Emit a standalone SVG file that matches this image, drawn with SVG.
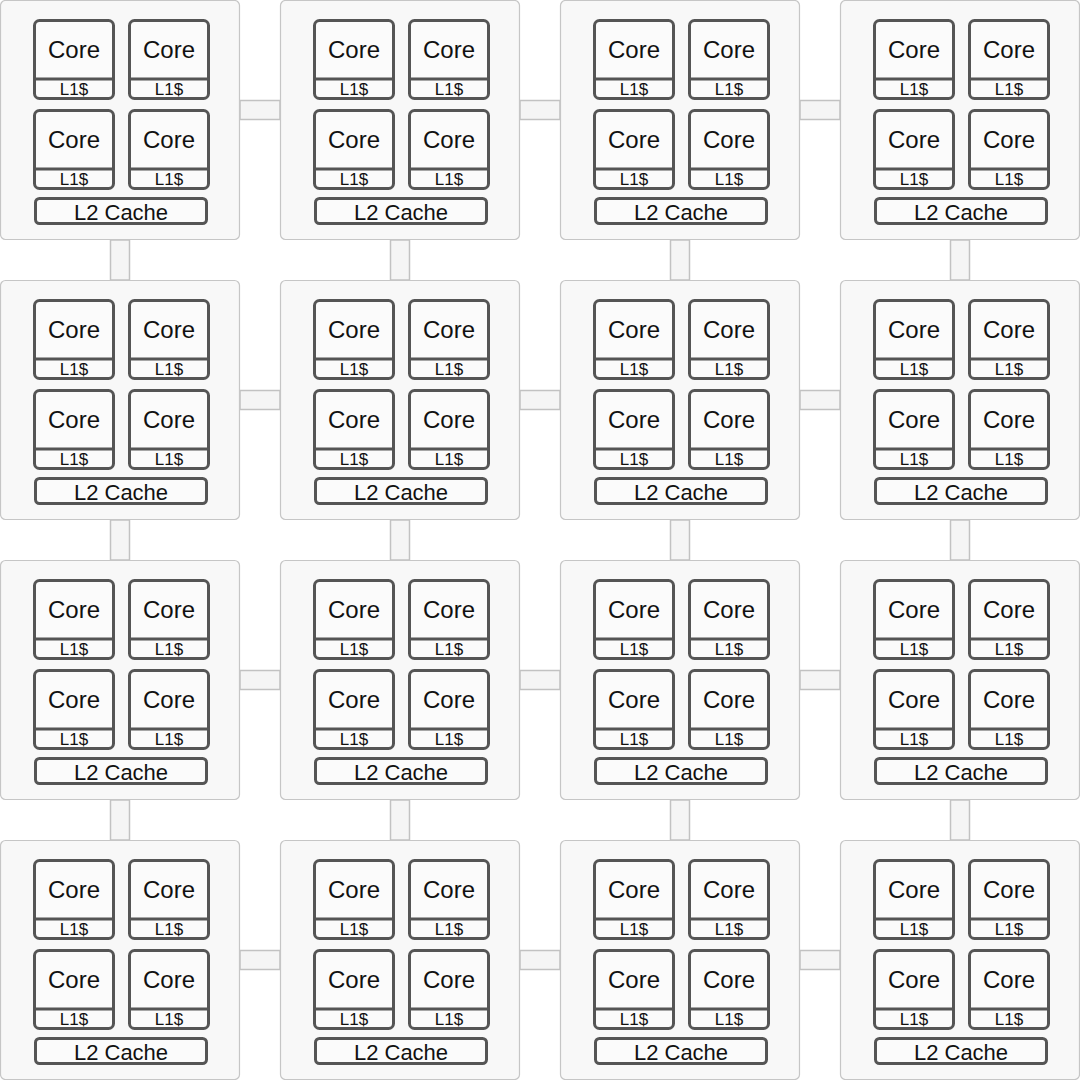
<svg xmlns="http://www.w3.org/2000/svg" width="1080" height="1080" viewBox="0 0 1080 1080">
<style>
.t{fill:#f8f8f8;stroke:#c6c6c6;stroke-width:1.2}
.cn{fill:#f5f5f5;stroke:#c2c2c2;stroke-width:1.5}
.c{fill:#fbfbfb;stroke:#555;stroke-width:3}
.d{stroke:#555;stroke-width:3}
text{font-family:"Liberation Sans",Arial,Helvetica,sans-serif;fill:#111;text-anchor:middle}
.k{font-size:24px}
.l{font-size:17px}
.m{font-size:22px}
</style>
<rect width="1080" height="1080" fill="#ffffff"/>
<g id="connectors">
<rect class="cn" x="240" y="100.5" width="40" height="19"/>
<rect class="cn" x="520" y="100.5" width="40" height="19"/>
<rect class="cn" x="800" y="100.5" width="40" height="19"/>
<rect class="cn" x="240" y="390.5" width="40" height="19"/>
<rect class="cn" x="520" y="390.5" width="40" height="19"/>
<rect class="cn" x="800" y="390.5" width="40" height="19"/>
<rect class="cn" x="240" y="670.5" width="40" height="19"/>
<rect class="cn" x="520" y="670.5" width="40" height="19"/>
<rect class="cn" x="800" y="670.5" width="40" height="19"/>
<rect class="cn" x="240" y="950.5" width="40" height="19"/>
<rect class="cn" x="520" y="950.5" width="40" height="19"/>
<rect class="cn" x="800" y="950.5" width="40" height="19"/>
<rect class="cn" x="110.5" y="240" width="19" height="40"/>
<rect class="cn" x="390.5" y="240" width="19" height="40"/>
<rect class="cn" x="670.5" y="240" width="19" height="40"/>
<rect class="cn" x="950.5" y="240" width="19" height="40"/>
<rect class="cn" x="110.5" y="520" width="19" height="40"/>
<rect class="cn" x="390.5" y="520" width="19" height="40"/>
<rect class="cn" x="670.5" y="520" width="19" height="40"/>
<rect class="cn" x="950.5" y="520" width="19" height="40"/>
<rect class="cn" x="110.5" y="800" width="19" height="40"/>
<rect class="cn" x="390.5" y="800" width="19" height="40"/>
<rect class="cn" x="670.5" y="800" width="19" height="40"/>
<rect class="cn" x="950.5" y="800" width="19" height="40"/>
</g>
<g id="tile-0-0" transform="translate(0,0)">
<rect class="t" x="0.5" y="0.5" width="239" height="239" rx="5"/>
<rect class="c" x="34.5" y="20.5" width="79" height="78" rx="5"/><line class="d" x1="34.5" y1="79" x2="113.5" y2="79"/><text class="k" x="74" y="58">Core</text><text class="l" x="74" y="94.5">L1$</text>
<rect class="c" x="129.5" y="20.5" width="79" height="78" rx="5"/><line class="d" x1="129.5" y1="79" x2="208.5" y2="79"/><text class="k" x="169" y="58">Core</text><text class="l" x="169" y="94.5">L1$</text>
<rect class="c" x="34.5" y="110.5" width="79" height="78" rx="5"/><line class="d" x1="34.5" y1="169" x2="113.5" y2="169"/><text class="k" x="74" y="148">Core</text><text class="l" x="74" y="184.5">L1$</text>
<rect class="c" x="129.5" y="110.5" width="79" height="78" rx="5"/><line class="d" x1="129.5" y1="169" x2="208.5" y2="169"/><text class="k" x="169" y="148">Core</text><text class="l" x="169" y="184.5">L1$</text>
<rect class="c" x="35.5" y="198.5" width="171" height="25" rx="4"/><text class="m" x="121" y="220">L2 Cache</text>
</g>
<g id="tile-0-1" transform="translate(280,0)">
<rect class="t" x="0.5" y="0.5" width="239" height="239" rx="5"/>
<rect class="c" x="34.5" y="20.5" width="79" height="78" rx="5"/><line class="d" x1="34.5" y1="79" x2="113.5" y2="79"/><text class="k" x="74" y="58">Core</text><text class="l" x="74" y="94.5">L1$</text>
<rect class="c" x="129.5" y="20.5" width="79" height="78" rx="5"/><line class="d" x1="129.5" y1="79" x2="208.5" y2="79"/><text class="k" x="169" y="58">Core</text><text class="l" x="169" y="94.5">L1$</text>
<rect class="c" x="34.5" y="110.5" width="79" height="78" rx="5"/><line class="d" x1="34.5" y1="169" x2="113.5" y2="169"/><text class="k" x="74" y="148">Core</text><text class="l" x="74" y="184.5">L1$</text>
<rect class="c" x="129.5" y="110.5" width="79" height="78" rx="5"/><line class="d" x1="129.5" y1="169" x2="208.5" y2="169"/><text class="k" x="169" y="148">Core</text><text class="l" x="169" y="184.5">L1$</text>
<rect class="c" x="35.5" y="198.5" width="171" height="25" rx="4"/><text class="m" x="121" y="220">L2 Cache</text>
</g>
<g id="tile-0-2" transform="translate(560,0)">
<rect class="t" x="0.5" y="0.5" width="239" height="239" rx="5"/>
<rect class="c" x="34.5" y="20.5" width="79" height="78" rx="5"/><line class="d" x1="34.5" y1="79" x2="113.5" y2="79"/><text class="k" x="74" y="58">Core</text><text class="l" x="74" y="94.5">L1$</text>
<rect class="c" x="129.5" y="20.5" width="79" height="78" rx="5"/><line class="d" x1="129.5" y1="79" x2="208.5" y2="79"/><text class="k" x="169" y="58">Core</text><text class="l" x="169" y="94.5">L1$</text>
<rect class="c" x="34.5" y="110.5" width="79" height="78" rx="5"/><line class="d" x1="34.5" y1="169" x2="113.5" y2="169"/><text class="k" x="74" y="148">Core</text><text class="l" x="74" y="184.5">L1$</text>
<rect class="c" x="129.5" y="110.5" width="79" height="78" rx="5"/><line class="d" x1="129.5" y1="169" x2="208.5" y2="169"/><text class="k" x="169" y="148">Core</text><text class="l" x="169" y="184.5">L1$</text>
<rect class="c" x="35.5" y="198.5" width="171" height="25" rx="4"/><text class="m" x="121" y="220">L2 Cache</text>
</g>
<g id="tile-0-3" transform="translate(840,0)">
<rect class="t" x="0.5" y="0.5" width="239" height="239" rx="5"/>
<rect class="c" x="34.5" y="20.5" width="79" height="78" rx="5"/><line class="d" x1="34.5" y1="79" x2="113.5" y2="79"/><text class="k" x="74" y="58">Core</text><text class="l" x="74" y="94.5">L1$</text>
<rect class="c" x="129.5" y="20.5" width="79" height="78" rx="5"/><line class="d" x1="129.5" y1="79" x2="208.5" y2="79"/><text class="k" x="169" y="58">Core</text><text class="l" x="169" y="94.5">L1$</text>
<rect class="c" x="34.5" y="110.5" width="79" height="78" rx="5"/><line class="d" x1="34.5" y1="169" x2="113.5" y2="169"/><text class="k" x="74" y="148">Core</text><text class="l" x="74" y="184.5">L1$</text>
<rect class="c" x="129.5" y="110.5" width="79" height="78" rx="5"/><line class="d" x1="129.5" y1="169" x2="208.5" y2="169"/><text class="k" x="169" y="148">Core</text><text class="l" x="169" y="184.5">L1$</text>
<rect class="c" x="35.5" y="198.5" width="171" height="25" rx="4"/><text class="m" x="121" y="220">L2 Cache</text>
</g>
<g id="tile-1-0" transform="translate(0,280)">
<rect class="t" x="0.5" y="0.5" width="239" height="239" rx="5"/>
<rect class="c" x="34.5" y="20.5" width="79" height="78" rx="5"/><line class="d" x1="34.5" y1="79" x2="113.5" y2="79"/><text class="k" x="74" y="58">Core</text><text class="l" x="74" y="94.5">L1$</text>
<rect class="c" x="129.5" y="20.5" width="79" height="78" rx="5"/><line class="d" x1="129.5" y1="79" x2="208.5" y2="79"/><text class="k" x="169" y="58">Core</text><text class="l" x="169" y="94.5">L1$</text>
<rect class="c" x="34.5" y="110.5" width="79" height="78" rx="5"/><line class="d" x1="34.5" y1="169" x2="113.5" y2="169"/><text class="k" x="74" y="148">Core</text><text class="l" x="74" y="184.5">L1$</text>
<rect class="c" x="129.5" y="110.5" width="79" height="78" rx="5"/><line class="d" x1="129.5" y1="169" x2="208.5" y2="169"/><text class="k" x="169" y="148">Core</text><text class="l" x="169" y="184.5">L1$</text>
<rect class="c" x="35.5" y="198.5" width="171" height="25" rx="4"/><text class="m" x="121" y="220">L2 Cache</text>
</g>
<g id="tile-1-1" transform="translate(280,280)">
<rect class="t" x="0.5" y="0.5" width="239" height="239" rx="5"/>
<rect class="c" x="34.5" y="20.5" width="79" height="78" rx="5"/><line class="d" x1="34.5" y1="79" x2="113.5" y2="79"/><text class="k" x="74" y="58">Core</text><text class="l" x="74" y="94.5">L1$</text>
<rect class="c" x="129.5" y="20.5" width="79" height="78" rx="5"/><line class="d" x1="129.5" y1="79" x2="208.5" y2="79"/><text class="k" x="169" y="58">Core</text><text class="l" x="169" y="94.5">L1$</text>
<rect class="c" x="34.5" y="110.5" width="79" height="78" rx="5"/><line class="d" x1="34.5" y1="169" x2="113.5" y2="169"/><text class="k" x="74" y="148">Core</text><text class="l" x="74" y="184.5">L1$</text>
<rect class="c" x="129.5" y="110.5" width="79" height="78" rx="5"/><line class="d" x1="129.5" y1="169" x2="208.5" y2="169"/><text class="k" x="169" y="148">Core</text><text class="l" x="169" y="184.5">L1$</text>
<rect class="c" x="35.5" y="198.5" width="171" height="25" rx="4"/><text class="m" x="121" y="220">L2 Cache</text>
</g>
<g id="tile-1-2" transform="translate(560,280)">
<rect class="t" x="0.5" y="0.5" width="239" height="239" rx="5"/>
<rect class="c" x="34.5" y="20.5" width="79" height="78" rx="5"/><line class="d" x1="34.5" y1="79" x2="113.5" y2="79"/><text class="k" x="74" y="58">Core</text><text class="l" x="74" y="94.5">L1$</text>
<rect class="c" x="129.5" y="20.5" width="79" height="78" rx="5"/><line class="d" x1="129.5" y1="79" x2="208.5" y2="79"/><text class="k" x="169" y="58">Core</text><text class="l" x="169" y="94.5">L1$</text>
<rect class="c" x="34.5" y="110.5" width="79" height="78" rx="5"/><line class="d" x1="34.5" y1="169" x2="113.5" y2="169"/><text class="k" x="74" y="148">Core</text><text class="l" x="74" y="184.5">L1$</text>
<rect class="c" x="129.5" y="110.5" width="79" height="78" rx="5"/><line class="d" x1="129.5" y1="169" x2="208.5" y2="169"/><text class="k" x="169" y="148">Core</text><text class="l" x="169" y="184.5">L1$</text>
<rect class="c" x="35.5" y="198.5" width="171" height="25" rx="4"/><text class="m" x="121" y="220">L2 Cache</text>
</g>
<g id="tile-1-3" transform="translate(840,280)">
<rect class="t" x="0.5" y="0.5" width="239" height="239" rx="5"/>
<rect class="c" x="34.5" y="20.5" width="79" height="78" rx="5"/><line class="d" x1="34.5" y1="79" x2="113.5" y2="79"/><text class="k" x="74" y="58">Core</text><text class="l" x="74" y="94.5">L1$</text>
<rect class="c" x="129.5" y="20.5" width="79" height="78" rx="5"/><line class="d" x1="129.5" y1="79" x2="208.5" y2="79"/><text class="k" x="169" y="58">Core</text><text class="l" x="169" y="94.5">L1$</text>
<rect class="c" x="34.5" y="110.5" width="79" height="78" rx="5"/><line class="d" x1="34.5" y1="169" x2="113.5" y2="169"/><text class="k" x="74" y="148">Core</text><text class="l" x="74" y="184.5">L1$</text>
<rect class="c" x="129.5" y="110.5" width="79" height="78" rx="5"/><line class="d" x1="129.5" y1="169" x2="208.5" y2="169"/><text class="k" x="169" y="148">Core</text><text class="l" x="169" y="184.5">L1$</text>
<rect class="c" x="35.5" y="198.5" width="171" height="25" rx="4"/><text class="m" x="121" y="220">L2 Cache</text>
</g>
<g id="tile-2-0" transform="translate(0,560)">
<rect class="t" x="0.5" y="0.5" width="239" height="239" rx="5"/>
<rect class="c" x="34.5" y="20.5" width="79" height="78" rx="5"/><line class="d" x1="34.5" y1="79" x2="113.5" y2="79"/><text class="k" x="74" y="58">Core</text><text class="l" x="74" y="94.5">L1$</text>
<rect class="c" x="129.5" y="20.5" width="79" height="78" rx="5"/><line class="d" x1="129.5" y1="79" x2="208.5" y2="79"/><text class="k" x="169" y="58">Core</text><text class="l" x="169" y="94.5">L1$</text>
<rect class="c" x="34.5" y="110.5" width="79" height="78" rx="5"/><line class="d" x1="34.5" y1="169" x2="113.5" y2="169"/><text class="k" x="74" y="148">Core</text><text class="l" x="74" y="184.5">L1$</text>
<rect class="c" x="129.5" y="110.5" width="79" height="78" rx="5"/><line class="d" x1="129.5" y1="169" x2="208.5" y2="169"/><text class="k" x="169" y="148">Core</text><text class="l" x="169" y="184.5">L1$</text>
<rect class="c" x="35.5" y="198.5" width="171" height="25" rx="4"/><text class="m" x="121" y="220">L2 Cache</text>
</g>
<g id="tile-2-1" transform="translate(280,560)">
<rect class="t" x="0.5" y="0.5" width="239" height="239" rx="5"/>
<rect class="c" x="34.5" y="20.5" width="79" height="78" rx="5"/><line class="d" x1="34.5" y1="79" x2="113.5" y2="79"/><text class="k" x="74" y="58">Core</text><text class="l" x="74" y="94.5">L1$</text>
<rect class="c" x="129.5" y="20.5" width="79" height="78" rx="5"/><line class="d" x1="129.5" y1="79" x2="208.5" y2="79"/><text class="k" x="169" y="58">Core</text><text class="l" x="169" y="94.5">L1$</text>
<rect class="c" x="34.5" y="110.5" width="79" height="78" rx="5"/><line class="d" x1="34.5" y1="169" x2="113.5" y2="169"/><text class="k" x="74" y="148">Core</text><text class="l" x="74" y="184.5">L1$</text>
<rect class="c" x="129.5" y="110.5" width="79" height="78" rx="5"/><line class="d" x1="129.5" y1="169" x2="208.5" y2="169"/><text class="k" x="169" y="148">Core</text><text class="l" x="169" y="184.5">L1$</text>
<rect class="c" x="35.5" y="198.5" width="171" height="25" rx="4"/><text class="m" x="121" y="220">L2 Cache</text>
</g>
<g id="tile-2-2" transform="translate(560,560)">
<rect class="t" x="0.5" y="0.5" width="239" height="239" rx="5"/>
<rect class="c" x="34.5" y="20.5" width="79" height="78" rx="5"/><line class="d" x1="34.5" y1="79" x2="113.5" y2="79"/><text class="k" x="74" y="58">Core</text><text class="l" x="74" y="94.5">L1$</text>
<rect class="c" x="129.5" y="20.5" width="79" height="78" rx="5"/><line class="d" x1="129.5" y1="79" x2="208.5" y2="79"/><text class="k" x="169" y="58">Core</text><text class="l" x="169" y="94.5">L1$</text>
<rect class="c" x="34.5" y="110.5" width="79" height="78" rx="5"/><line class="d" x1="34.5" y1="169" x2="113.5" y2="169"/><text class="k" x="74" y="148">Core</text><text class="l" x="74" y="184.5">L1$</text>
<rect class="c" x="129.5" y="110.5" width="79" height="78" rx="5"/><line class="d" x1="129.5" y1="169" x2="208.5" y2="169"/><text class="k" x="169" y="148">Core</text><text class="l" x="169" y="184.5">L1$</text>
<rect class="c" x="35.5" y="198.5" width="171" height="25" rx="4"/><text class="m" x="121" y="220">L2 Cache</text>
</g>
<g id="tile-2-3" transform="translate(840,560)">
<rect class="t" x="0.5" y="0.5" width="239" height="239" rx="5"/>
<rect class="c" x="34.5" y="20.5" width="79" height="78" rx="5"/><line class="d" x1="34.5" y1="79" x2="113.5" y2="79"/><text class="k" x="74" y="58">Core</text><text class="l" x="74" y="94.5">L1$</text>
<rect class="c" x="129.5" y="20.5" width="79" height="78" rx="5"/><line class="d" x1="129.5" y1="79" x2="208.5" y2="79"/><text class="k" x="169" y="58">Core</text><text class="l" x="169" y="94.5">L1$</text>
<rect class="c" x="34.5" y="110.5" width="79" height="78" rx="5"/><line class="d" x1="34.5" y1="169" x2="113.5" y2="169"/><text class="k" x="74" y="148">Core</text><text class="l" x="74" y="184.5">L1$</text>
<rect class="c" x="129.5" y="110.5" width="79" height="78" rx="5"/><line class="d" x1="129.5" y1="169" x2="208.5" y2="169"/><text class="k" x="169" y="148">Core</text><text class="l" x="169" y="184.5">L1$</text>
<rect class="c" x="35.5" y="198.5" width="171" height="25" rx="4"/><text class="m" x="121" y="220">L2 Cache</text>
</g>
<g id="tile-3-0" transform="translate(0,840)">
<rect class="t" x="0.5" y="0.5" width="239" height="239" rx="5"/>
<rect class="c" x="34.5" y="20.5" width="79" height="78" rx="5"/><line class="d" x1="34.5" y1="79" x2="113.5" y2="79"/><text class="k" x="74" y="58">Core</text><text class="l" x="74" y="94.5">L1$</text>
<rect class="c" x="129.5" y="20.5" width="79" height="78" rx="5"/><line class="d" x1="129.5" y1="79" x2="208.5" y2="79"/><text class="k" x="169" y="58">Core</text><text class="l" x="169" y="94.5">L1$</text>
<rect class="c" x="34.5" y="110.5" width="79" height="78" rx="5"/><line class="d" x1="34.5" y1="169" x2="113.5" y2="169"/><text class="k" x="74" y="148">Core</text><text class="l" x="74" y="184.5">L1$</text>
<rect class="c" x="129.5" y="110.5" width="79" height="78" rx="5"/><line class="d" x1="129.5" y1="169" x2="208.5" y2="169"/><text class="k" x="169" y="148">Core</text><text class="l" x="169" y="184.5">L1$</text>
<rect class="c" x="35.5" y="198.5" width="171" height="25" rx="4"/><text class="m" x="121" y="220">L2 Cache</text>
</g>
<g id="tile-3-1" transform="translate(280,840)">
<rect class="t" x="0.5" y="0.5" width="239" height="239" rx="5"/>
<rect class="c" x="34.5" y="20.5" width="79" height="78" rx="5"/><line class="d" x1="34.5" y1="79" x2="113.5" y2="79"/><text class="k" x="74" y="58">Core</text><text class="l" x="74" y="94.5">L1$</text>
<rect class="c" x="129.5" y="20.5" width="79" height="78" rx="5"/><line class="d" x1="129.5" y1="79" x2="208.5" y2="79"/><text class="k" x="169" y="58">Core</text><text class="l" x="169" y="94.5">L1$</text>
<rect class="c" x="34.5" y="110.5" width="79" height="78" rx="5"/><line class="d" x1="34.5" y1="169" x2="113.5" y2="169"/><text class="k" x="74" y="148">Core</text><text class="l" x="74" y="184.5">L1$</text>
<rect class="c" x="129.5" y="110.5" width="79" height="78" rx="5"/><line class="d" x1="129.5" y1="169" x2="208.5" y2="169"/><text class="k" x="169" y="148">Core</text><text class="l" x="169" y="184.5">L1$</text>
<rect class="c" x="35.5" y="198.5" width="171" height="25" rx="4"/><text class="m" x="121" y="220">L2 Cache</text>
</g>
<g id="tile-3-2" transform="translate(560,840)">
<rect class="t" x="0.5" y="0.5" width="239" height="239" rx="5"/>
<rect class="c" x="34.5" y="20.5" width="79" height="78" rx="5"/><line class="d" x1="34.5" y1="79" x2="113.5" y2="79"/><text class="k" x="74" y="58">Core</text><text class="l" x="74" y="94.5">L1$</text>
<rect class="c" x="129.5" y="20.5" width="79" height="78" rx="5"/><line class="d" x1="129.5" y1="79" x2="208.5" y2="79"/><text class="k" x="169" y="58">Core</text><text class="l" x="169" y="94.5">L1$</text>
<rect class="c" x="34.5" y="110.5" width="79" height="78" rx="5"/><line class="d" x1="34.5" y1="169" x2="113.5" y2="169"/><text class="k" x="74" y="148">Core</text><text class="l" x="74" y="184.5">L1$</text>
<rect class="c" x="129.5" y="110.5" width="79" height="78" rx="5"/><line class="d" x1="129.5" y1="169" x2="208.5" y2="169"/><text class="k" x="169" y="148">Core</text><text class="l" x="169" y="184.5">L1$</text>
<rect class="c" x="35.5" y="198.5" width="171" height="25" rx="4"/><text class="m" x="121" y="220">L2 Cache</text>
</g>
<g id="tile-3-3" transform="translate(840,840)">
<rect class="t" x="0.5" y="0.5" width="239" height="239" rx="5"/>
<rect class="c" x="34.5" y="20.5" width="79" height="78" rx="5"/><line class="d" x1="34.5" y1="79" x2="113.5" y2="79"/><text class="k" x="74" y="58">Core</text><text class="l" x="74" y="94.5">L1$</text>
<rect class="c" x="129.5" y="20.5" width="79" height="78" rx="5"/><line class="d" x1="129.5" y1="79" x2="208.5" y2="79"/><text class="k" x="169" y="58">Core</text><text class="l" x="169" y="94.5">L1$</text>
<rect class="c" x="34.5" y="110.5" width="79" height="78" rx="5"/><line class="d" x1="34.5" y1="169" x2="113.5" y2="169"/><text class="k" x="74" y="148">Core</text><text class="l" x="74" y="184.5">L1$</text>
<rect class="c" x="129.5" y="110.5" width="79" height="78" rx="5"/><line class="d" x1="129.5" y1="169" x2="208.5" y2="169"/><text class="k" x="169" y="148">Core</text><text class="l" x="169" y="184.5">L1$</text>
<rect class="c" x="35.5" y="198.5" width="171" height="25" rx="4"/><text class="m" x="121" y="220">L2 Cache</text>
</g>
</svg>
